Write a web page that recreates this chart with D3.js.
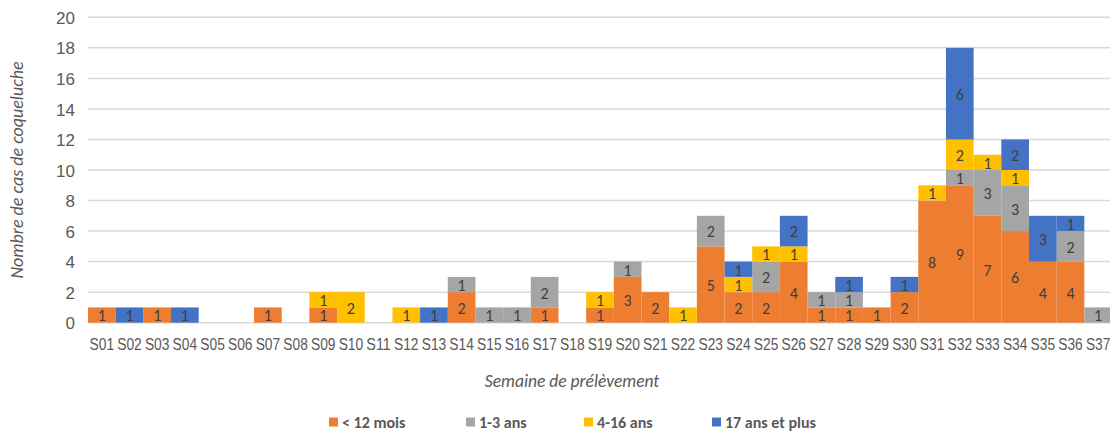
<!DOCTYPE html>
<html>
<head>
<meta charset="utf-8">
<script src="https://cdn.jsdelivr.net/npm/d3@7"></script>
<style>
  html, body { margin: 0; padding: 0; background: #fff; }
  svg { display: block; font-family: Carlito, Calibri, Lato, sans-serif; }
</style>
</head>
<body>
<svg id="chart" width="1110" height="432"></svg>
<script>
const weeks = ["S01","S02","S03","S04","S05","S06","S07","S08","S09","S10","S11","S12","S13","S14","S15","S16","S17","S18","S19","S20","S21","S22","S23","S24","S25","S26","S27","S28","S29","S30","S31","S32","S33","S34","S35","S36","S37"];
const seriesNames = ["< 12 mois", "1-3 ans", "4-16 ans", "17 ans et plus"];
const under12 = [1,0,1,0,0,0,1,0,1,0,0,0,0,2,0,0,1,0,1,3,2,0,5,2,2,4,1,1,1,2,8,9,7,6,4,4,0];
const age1to3 = [0,0,0,0,0,0,0,0,0,0,0,0,0,1,1,1,2,0,0,1,0,0,2,0,2,0,1,1,0,0,0,1,3,3,0,2,1];
const age4to16 = [0,0,0,0,0,0,0,0,1,2,0,1,0,0,0,0,0,0,1,0,0,1,0,1,1,1,0,0,0,0,1,2,1,1,0,0,0];
const age17plus = [0,1,0,1,0,0,0,0,0,0,0,0,1,0,0,0,0,0,0,0,0,0,0,1,0,2,0,1,0,1,0,6,0,2,3,1,0];
const yTicks = [0,2,4,6,8,10,12,14,16,18,20];
const colors = ["#ED7D31", "#A5A5A5", "#FFC000", "#4472C4"];

const table = weeks.map((w, i) => ({
  week: w,
  "< 12 mois": under12[i],
  "1-3 ans": age1to3[i],
  "4-16 ans": age4to16[i],
  "17 ans et plus": age17plus[i]
}));

const svg = d3.select("#chart");
const x = d3.scaleBand().domain(weeks).range([88, 1112]).paddingInner(0).paddingOuter(0);
const y = d3.scaleLinear().domain([0, 20]).range([322.7, 17.3]);
const color = d3.scaleOrdinal().domain(seriesNames).range(colors);

// gridlines
svg.append("g").selectAll("line").data(yTicks).join("line")
  .attr("x1", 88).attr("x2", 1112)
  .attr("y1", d => y(d)).attr("y2", d => y(d))
  .attr("stroke", "#d9d9d9").attr("stroke-width", 1.5);

// y axis labels
const yAxis = d3.axisLeft(y).tickValues(yTicks).tickSize(0).tickPadding(0);
const yg = svg.append("g").attr("transform", "translate(75,0)").call(yAxis);
yg.select(".domain").remove();
yg.selectAll("text").attr("fill", "#595959").style("font-size", "17px").attr("dy", "0.36em");

// x axis labels
const xAxis = d3.axisBottom(x).tickSize(0).tickPadding(0);
const xg = svg.append("g").attr("transform", "translate(0,339)").call(xAxis);
xg.select(".domain").remove();
xg.selectAll("text").attr("fill", "#595959").style("font-size", "16px").attr("dy", "0.71em")
  .attr("textLength", 24.5).attr("lengthAdjust", "spacingAndGlyphs");

// stacks
const stack = d3.stack().keys(seriesNames);
const series = stack(table);

const layers = svg.append("g").selectAll("g").data(series).join("g")
  .attr("fill", d => color(d.key));
layers.selectAll("rect").data(d => d.map(v => ({v, key: d.key}))).join("rect")
  .attr("x", d => x(d.v.data.week))
  .attr("width", x.bandwidth())
  .attr("y", d => y(d.v[1]))
  .attr("height", d => y(d.v[0]) - y(d.v[1]));

// labels
const labelG = svg.append("g");
series.forEach(s => {
  s.forEach(v => {
    const val = v[1] - v[0];
    if (val > 0) {
      labelG.append("text")
        .attr("x", x(v.data.week) + x.bandwidth() / 2)
        .attr("y", (y(v[0]) + y(v[1])) / 2)
        .attr("dy", "0.4em")
        .attr("text-anchor", "middle")
        .attr("fill", "#404040")
        .style("font-size", "16px")
        .text(val);
    }
  });
});

// axis titles
svg.append("text")
  .attr("x", 572).attr("y", 387)
  .attr("text-anchor", "middle")
  .attr("fill", "#595959")
  .style("font-size", "17.5px").style("font-style", "italic")
  .text("Semaine de prélèvement");

svg.append("text")
  .attr("transform", "translate(23,170) rotate(-90)")
  .attr("text-anchor", "middle")
  .attr("fill", "#595959")
  .style("font-size", "18px").style("font-style", "italic")
  .text("Nombre de cas de coqueluche");

// legend
const legendX = [329, 466, 584, 712];
const lg = svg.append("g").selectAll("g").data(seriesNames).join("g")
  .attr("transform", (d, i) => `translate(${legendX[i]},416)`);
lg.append("rect").attr("width", 9).attr("height", 9).attr("y", 1.5).attr("fill", d => color(d));
lg.append("text").attr("x", 13).attr("y", 6).attr("dy", "0.36em")
  .attr("fill", "#595959").style("font-size", "16px").style("font-weight", "bold")
  .text(d => d);
</script>
</body>
</html>
